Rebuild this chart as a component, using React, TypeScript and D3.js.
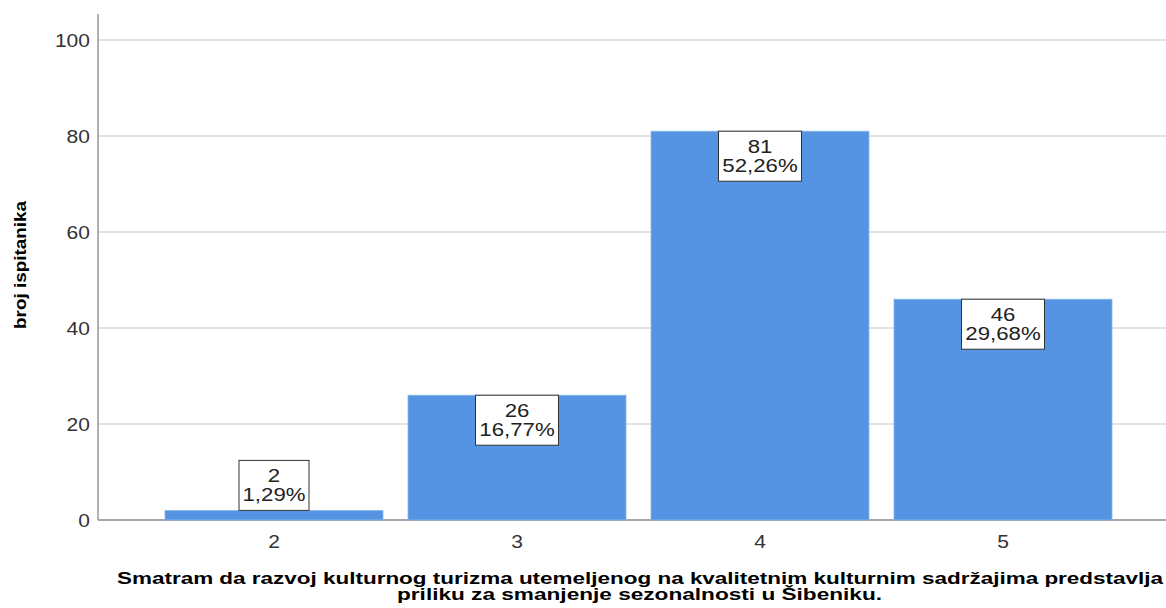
import React from "react";
import * as d3 from "d3";

const categories = ["2", "3", "4", "5"];
const counts = [2, 26, 81, 46];
const percents = ["1,29%", "16,77%", "52,26%", "29,68%"];
const yTicks = [0, 20, 40, 60, 80, 100];
const yLabel = "broj ispitanika";
const xTitle = [
  "Smatram da razvoj kulturnog turizma utemeljenog na kvalitetnim kulturnim sadržajima predstavlja",
  "priliku za smanjenje sezonalnosti u Šibeniku.",
];

const W = 1166;
const H = 608;
const left = 98;
const top = 40;
const bottom = 520;
const SX = 1.17;

function SText(props: {
  x: number;
  y: number;
  anchor?: string;
  size: number;
  sx?: number;
  fill?: string;
  children: React.ReactNode;
}) {
  const { x, y, anchor = "middle", size, sx = SX, fill = "#222", children } = props;
  return (
    <text
      transform={`translate(${x},${y}) scale(${sx},1)`}
      textAnchor={anchor}
      fontSize={size}
      fill={fill}
    >
      {children}
    </text>
  );
}

export default function App() {
  const y = d3.scaleLinear().domain([0, 100]).range([bottom, top]);
  const x = d3
    .scaleBand<string>()
    .domain(categories)
    .range([165, 1112])
    .paddingInner(0.1029)
    .paddingOuter(0);
  const bw = x.bandwidth();
  const font = "Arial, 'Liberation Sans', sans-serif";
  const boxH = 50;

  return (
    <svg
      width={W}
      height={H}
      style={{ position: "absolute", left: 0, top: 0, background: "#fff" }}
      fontFamily={font}
    >
      {yTicks.map((t) => (
        <g key={t}>
          <line
            x1={left}
            x2={W}
            y1={y(t)}
            y2={y(t)}
            stroke={t === 0 ? "#8a8a8a" : "#c8c8c8"}
            strokeWidth={t === 0 ? 1.5 : 1.2}
          />
          <SText x={90} y={y(t) + 6.5} anchor="end" size={18} fill="#333">
            {t}
          </SText>
        </g>
      ))}
      <line x1={left} x2={left} y1={14} y2={bottom} stroke="#999" strokeWidth={1.5} />
      {categories.map((c, i) => {
        const x0 = x(c)!;
        const cx = x0 + bw / 2;
        const yt = y(counts[i]);
        const small = bottom - yt < boxH + 4;
        const by = small ? yt - boxH : yt;
        const txt = percents[i];
        const boxW = (txt.length === 5 ? 62 : 75) + 8;
        return (
          <g key={c}>
            <rect x={x0} y={yt} width={bw} height={bottom - yt} fill="#5594e3" stroke="#8db6ec" strokeWidth={0.8} />
            <rect x={cx - boxW / 2} y={by} width={boxW} height={boxH} fill="#fff" stroke="#333" strokeWidth={1} />
            <SText x={cx} y={by + 22} size={19}>
              {counts[i]}
            </SText>
            <SText x={cx} y={by + 41} size={19}>
              {txt}
            </SText>
            <SText x={cx} y={548} size={18} fill="#333">
              {c}
            </SText>
          </g>
        );
      })}
      <text
        transform={`translate(26, 265) rotate(-90) scale(1.18,1)`}
        textAnchor="middle"
        fontSize={16}
        fontWeight="bold"
        fill="#000"
      >
        {yLabel}
      </text>
      <text
        x={117}
        y={584}
        fontSize={16}
        fontWeight="bold"
        fill="#000"
        textLength={1046}
        lengthAdjust="spacingAndGlyphs"
      >
        {xTitle[0]}
      </text>
      <text
        x={397}
        y={600}
        fontSize={16}
        fontWeight="bold"
        fill="#000"
        textLength={485}
        lengthAdjust="spacingAndGlyphs"
      >
        {xTitle[1]}
      </text>
    </svg>
  );
}
